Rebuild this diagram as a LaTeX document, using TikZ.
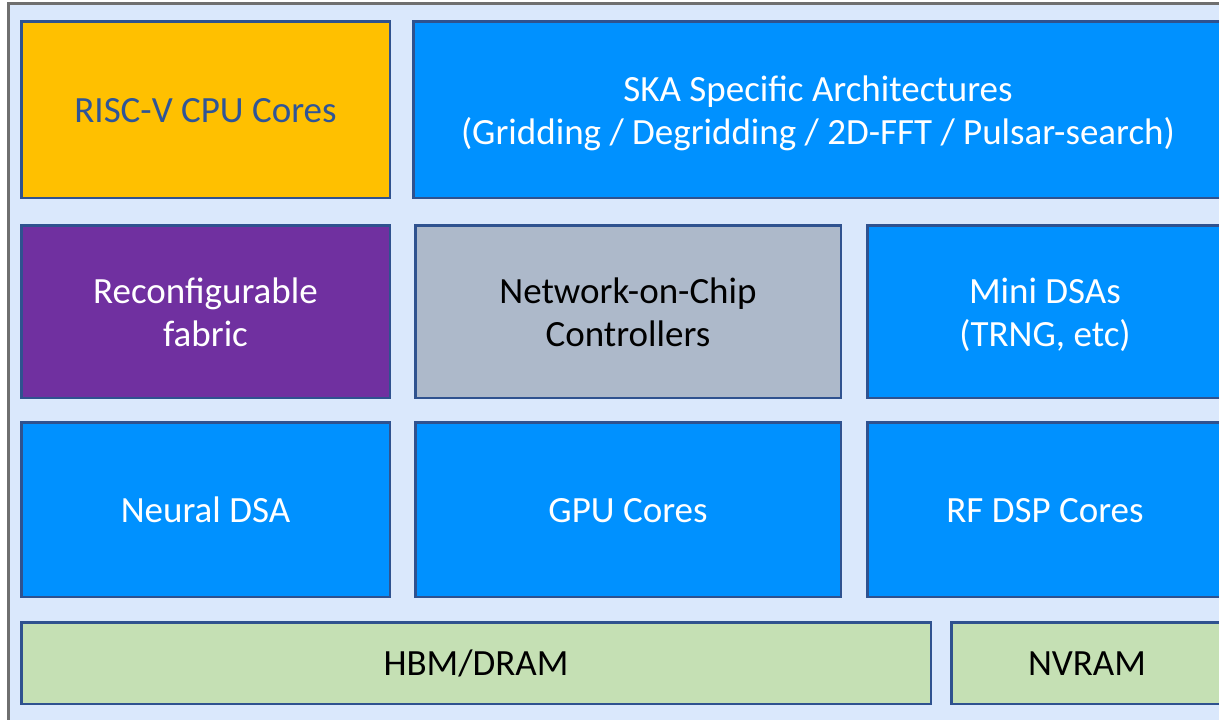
\documentclass[tikz,border=0pt]{standalone}
\usepackage{fontspec}
\setmainfont{Carlito}
\definecolor{bgblue}{HTML}{DAE8FC}
\definecolor{framegray}{HTML}{6F6F6F}
\definecolor{boxline}{HTML}{2F528F}
\definecolor{cpuyellow}{HTML}{FFC000}
\definecolor{dsablue}{HTML}{0091FF}
\definecolor{fabpurple}{HTML}{7030A0}
\definecolor{nocgray}{HTML}{ADB9CA}
\definecolor{memgreen}{HTML}{C5E0B4}
\definecolor{cputext}{HTML}{2F5597}
\begin{document}
\begin{tikzpicture}[x=1pt,y=-1pt,
  block/.style={draw=boxline, line width=2.5pt, inner sep=0pt},
  dsa/.style={block, fill=dsablue},
  mem/.style={block, fill=memgreen},
  caption/.style={inner sep=0pt, align=center, anchor=base,
    font=\fontsize{37}{43}\selectfont, text=white},
  dark/.style={caption, text=black}]
\useasboundingbox (0,0) rectangle (1219,720);
\clip (0,0) rectangle (1219,720);
% chip outline
\draw[fill=bgblue, draw=framegray, line width=3pt] (8.5,3.5) rectangle (1240,740);
% top row
\node[block, fill=cpuyellow, minimum width=368.5pt, minimum height=176.5pt] (cpu) at (205.5,109.5) {};
\node[dsa, minimum width=809.5pt, minimum height=176.5pt] (ska) at (818,109.5) {};
% middle row
\node[block, fill=fabpurple, minimum width=368.5pt, minimum height=172.5pt] (fabric) at (205.5,311.5) {};
\node[block, fill=nocgray, minimum width=425.5pt, minimum height=172.5pt] (noc) at (628,311.5) {};
\node[dsa, minimum width=355.5pt, minimum height=172.5pt] (mini) at (1045,311.5) {};
% lower row
\node[dsa, minimum width=368.5pt, minimum height=174.5pt] (neural) at (205.5,509.5) {};
\node[dsa, minimum width=425.5pt, minimum height=174.5pt] (gpu) at (628,509.5) {};
\node[dsa, minimum width=355.5pt, minimum height=174.5pt] (rf) at (1045,509.5) {};
% memory
\node[mem, minimum width=909.5pt, minimum height=81.5pt] (hbm) at (476,663) {};
\node[mem, minimum width=271.5pt, minimum height=81.5pt] (nvram) at (1087,663) {};
% captions are anchored on the baseline of their last line
\node[caption, text=cputext] (cpu-t) at ([yshift=-12.5pt]cpu.center) {RISC-V CPU Cores};
\node[caption] (ska-t) at ([yshift=-34.5pt]ska.center) {SKA Specific Architectures\\(Gridding / Degridding / 2D-FFT / Pulsar-search)};
\node[caption] (fabric-t) at ([yshift=-34.5pt]fabric.center) {Reconfigurable\\fabric};
\node[dark] (noc-t) at ([yshift=-34.5pt]noc.center) {Network-on-Chip\\Controllers};
\node[caption] (mini-t) at ([yshift=-34.5pt]mini.center) {Mini DSAs\\(TRNG, etc)};
\node[caption] (neural-t) at ([yshift=-12.5pt]neural.center) {Neural DSA};
\node[caption] (gpu-t) at ([yshift=-12.5pt]gpu.center) {GPU Cores};
\node[caption] (rf-t) at ([yshift=-12.5pt]rf.center) {RF DSP Cores};
\node[dark] (hbm-t) at ([yshift=-12.5pt]hbm.center) {HBM/DRAM};
\node[dark] (nvram-t) at ([yshift=-12.5pt]nvram.center) {NVRAM};
\end{tikzpicture}
\end{document}
